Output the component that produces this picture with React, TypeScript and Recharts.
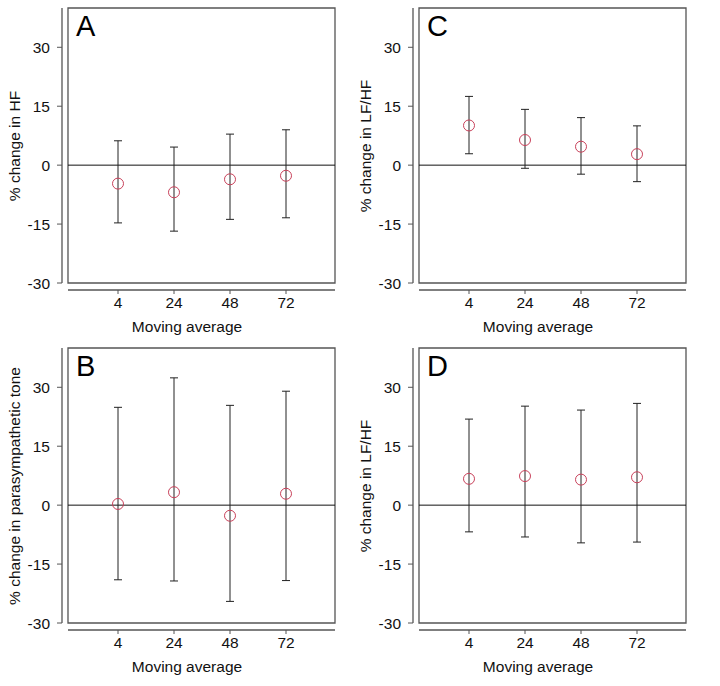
import { ComposedChart, ErrorBar, ReferenceArea, ReferenceLine, Scatter, XAxis, YAxis } from "recharts";

// moving average window (hours) on the x axis
const MOVING_AVG = ["4", "24", "48", "72"];
const Y_TICKS = [-30, -15, 0, 15, 30];

// A: HF
const HF_MEAN = [-4.7, -6.9, -3.6, -2.7];
const HF_LOW = [-14.7, -16.8, -13.8, -13.4];
const HF_HIGH = [6.2, 4.6, 7.9, 9.0];

// B: parasympathetic tone
const PARA_MEAN = [0.3, 3.3, -2.7, 2.9];
const PARA_LOW = [-19.0, -19.3, -24.5, -19.2];
const PARA_HIGH = [24.9, 32.4, 25.4, 29.0];

// C: LF/HF
const LFHF_C_MEAN = [10.1, 6.4, 4.7, 2.8];
const LFHF_C_LOW = [2.9, -0.8, -2.3, -4.2];
const LFHF_C_HIGH = [17.5, 14.2, 12.1, 10.0];

// D: LF/HF
const LFHF_D_MEAN = [6.7, 7.4, 6.5, 7.1];
const LFHF_D_LOW = [-6.8, -8.1, -9.6, -9.4];
const LFHF_D_HIGH = [21.9, 25.2, 24.2, 25.9];

const FONT = '"Liberation Sans", Arial, sans-serif';
const AXIS = "#555";
const RED = "#c8415a";
const W = 351;
const H = 340;
const X_DOMAIN: [number, number] = [0, 4.875];
const Y_DOMAIN: [number, number] = [-31.78, 40];
const BOX_X1 = 0.107;

function Ring(props: any) {
  return <circle cx={props.cx} cy={props.cy} r={5.5} fill="none" stroke={RED} strokeWidth={1} />;
}

type PanelProps = {
  letter: string;
  yLabel: string;
  mean: number[];
  low: number[];
  high: number[];
  left: number;
  top: number;
};

function Panel({ letter, yLabel, mean, low, high, left, top }: PanelProps) {
  const data = MOVING_AVG.map((_, i) => ({
    x: i + 1,
    y: mean[i],
    err: [mean[i] - low[i], high[i] - mean[i]],
  }));
  return (
    <div style={{ position: "absolute", left, top }}>
      <ComposedChart width={W} height={H} data={data} margin={{ top: 8, right: 16, bottom: 0, left: 0 }} style={{ fontFamily: FONT }}>
        <XAxis
          type="number"
          dataKey="x"
          domain={X_DOMAIN}
          allowDataOverflow
          ticks={[1, 2, 3, 4]}
          tickFormatter={(v) => MOVING_AVG[v - 1]}
          axisLine={false}
          tickLine={{ stroke: AXIS }}
          tickSize={4}
          tickMargin={3}
          height={50}
          tick={{ fontSize: 15.5, fill: "#111" }}
        />
        <YAxis
          type="number"
          dataKey="y"
          domain={Y_DOMAIN}
          allowDataOverflow
          ticks={Y_TICKS}
          axisLine={false}
          tickLine={{ stroke: AXIS }}
          tickSize={5}
          tickMargin={7}
          width={62}
          tick={{ fontSize: 15.5, fill: "#111" }}
        />
        <ReferenceArea x1={BOX_X1} x2={X_DOMAIN[1]} y1={-30} y2={40} fill="none" stroke={AXIS} strokeWidth={1.3} />
        <ReferenceLine segment={[{ x: 0, y: -30 }, { x: 0, y: 40 }]} stroke={AXIS} strokeWidth={1.3} />
        <ReferenceLine
          segment={[{ x: BOX_X1, y: Y_DOMAIN[0] }, { x: X_DOMAIN[1], y: Y_DOMAIN[0] }]}
          stroke={AXIS}
          strokeWidth={1.3}
        />
        <ReferenceLine segment={[{ x: BOX_X1, y: 0 }, { x: X_DOMAIN[1], y: 0 }]} stroke="#111" strokeWidth={1} />
        <Scatter dataKey="y" shape={Ring} isAnimationActive={false}>
          <ErrorBar dataKey="err" direction="y" width={4} stroke="#222" strokeWidth={1} isAnimationActive={false} />
        </Scatter>
        <text x={76} y={36} fontSize={29} fill="#000" fontFamily={FONT}>
          {letter}
        </text>
        <text x={187} y={332} fontSize={15.5} fill="#111" textAnchor="middle" fontFamily={FONT}>
          Moving average
        </text>
        <text
          x={20}
          y={146}
          fontSize={15.5}
          fill="#111"
          textAnchor="middle"
          fontFamily={FONT}
          transform="rotate(-90 20 146)"
        >
          {yLabel}
        </text>
      </ComposedChart>
    </div>
  );
}

export default function App() {
  return (
    <div style={{ position: "absolute", left: 0, top: 0, width: 720, height: 686, background: "#fff" }}>
      <Panel letter="A" yLabel="% change in HF" mean={HF_MEAN} low={HF_LOW} high={HF_HIGH} left={0} top={0} />
      <Panel letter="C" yLabel="% change in LF/HF" mean={LFHF_C_MEAN} low={LFHF_C_LOW} high={LFHF_C_HIGH} left={351} top={0} />
      <Panel
        letter="B"
        yLabel="% change in parasympathetic tone"
        mean={PARA_MEAN}
        low={PARA_LOW}
        high={PARA_HIGH}
        left={0}
        top={340}
      />
      <Panel letter="D" yLabel="% change in LF/HF" mean={LFHF_D_MEAN} low={LFHF_D_LOW} high={LFHF_D_HIGH} left={351} top={340} />
    </div>
  );
}
